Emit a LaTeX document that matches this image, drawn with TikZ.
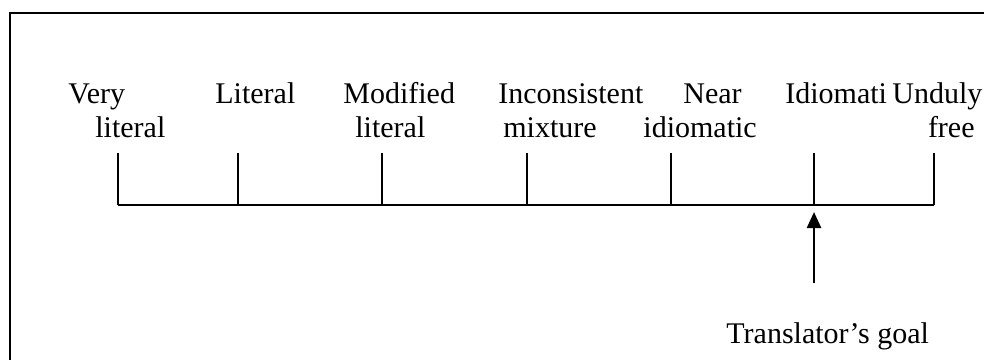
\documentclass[tikz,border=0pt]{standalone}
\usepackage{fontspec}
\setmainfont{Liberation Serif}
\usetikzlibrary{arrows.meta, positioning}

\tikzset{scaletext/.style={anchor=base west, inner sep=0pt,
    font=\fontsize{15}{17}\selectfont}}

\begin{document}
\begin{tikzpicture}[x=0.5pt, y=-0.5pt]
        \def \axis {205}
        \def \tick {52}
        \useasboundingbox (0,0) rectangle (984,360);

        % frame
        \draw[line width=1pt] (9.5,360) -- (9.5,12.5) -- (984,12.5);

        % scale with its ticks
        \foreach \x [count=\s] in {118,238,382,527,671,814,934}
        {
            \coordinate (t\s) at (\x,\axis);
            \draw[line width=0.7pt] (t\s) -- ++(0,-\tick);
        }
        \draw[line width=0.75pt] (t1) -- (t7);

        % labels
        \node[scaletext] (very1) at (68,103) {Very};
        \node[scaletext] (very2) at (95,137) {literal};
        \node[scaletext] (lit) at (215,103) {Literal};
        \node[scaletext] (mod1) at (343,103) {Modified};
        \node[scaletext] (mod2) at (355,137) {literal};
        \node[scaletext] (inc1) at (498,103) {Inconsistent};
        \node[scaletext] (inc2) at (503,137) {mixture};
        \node[scaletext] (near1) at (683,103) {Near};
        \node[scaletext] (near2) at (643,137) {idiomatic};
        \node[scaletext] (idio) at (785,103) {Idiomati};
        \node[scaletext] (und1) at (892,103) {Unduly};
        \node[scaletext, anchor=base east] (und2) at (975,137) {free};

        % goal
        \node[scaletext] (goal) at (726,343) {Translator’s goal};
        \coordinate (foot) at (814,283);
        \draw[line width=1.2pt, -{Triangle[width=7pt,length=8pt]},
            shorten >=3.5pt] (foot) -- (t6);
    \end{tikzpicture}
\end{document}
